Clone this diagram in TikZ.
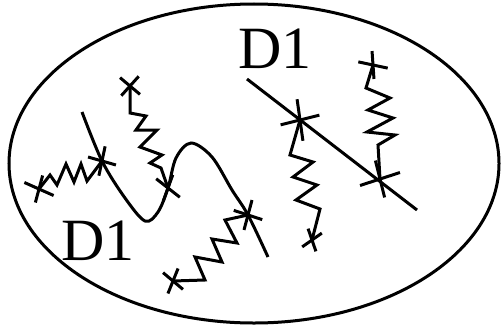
\documentclass[tikz,border=0pt]{standalone}
\usepackage{fontspec}
\setmainfont{Liberation Serif}
\usetikzlibrary{shapes.geometric}
\newcommand\drawcross[5]{%
  \draw ([shift={(#2:#4)}]#1) -- ([shift={(#2+180:#4)}]#1);
  \draw ([shift={(#3:#5)}]#1) -- ([shift={(#3+180:#5)}]#1);}
\begin{document}
\begin{tikzpicture}[x=1pt,y=-1pt,line width=3pt,line join=miter,
  lbl/.style={font=\fontsize{60}{60}\selectfont,inner sep=0pt}]
\useasboundingbox (0,0) rectangle (502,329);
% ellipse
\node[draw,ellipse,minimum width=490pt,minimum height=319pt,inner sep=0pt] (ell) at (254,163.5) {};
% labels
\node[lbl,anchor=base west] (t1) at (237,68) {D1};
\node[lbl,anchor=base west] (t2) at (60,260) {D1};
% cross positions
\coordinate (x1) at (102,161);
\coordinate (x2) at (168,188);
\coordinate (x3) at (248,215);
\coordinate (x4) at (300,120);
\coordinate (x5) at (380,179);
\coordinate (f1) at (39,189);
\coordinate (f2) at (130,86);
\coordinate (f3) at (173,281);
\coordinate (f4) at (312,240);
\coordinate (f5) at (373,65);
% wavy curve
\coordinate (w0) at (82,112);
\coordinate (w6) at (268,257);
\draw plot[smooth,tension=0.55] coordinates {(w0) (x1) (125,198) (145,221) (158,212) (x2) (176,158) (191,143) (212,157) (232,190) (x3) (w6)};
% straight line
\coordinate (l0) at (247,79);
\coordinate (l1) at (417,210);
\draw (l0) -- (l1);
% crosses
\drawcross{x1}{16}{102}{14.5}{15}
\drawcross{x2}{38}{110}{15}{14}
\drawcross{x3}{18}{105}{15}{15.5}
\drawcross{x4}{-14}{82}{20}{21}
\drawcross{x5}{-18}{76}{21}{19}
\drawcross{f1}{24}{105}{16}{14}
\drawcross{f2}{40}{132}{13}{13}
\drawcross{f3}{40}{112}{13}{13.5}
\drawcross{f4}{-35}{71}{12}{12}
\drawcross{f5}{12}{86}{15}{14}
% springs
\draw (f1) -- (50,175) -- (57,185) -- (66,164) -- (74,182) -- (81,164) -- (87,181) -- (x1);
\draw (f2) -- (130,113) -- (146,116) -- (136,130) -- (157,130) -- (140,147) -- (162,155) -- (150,163) -- (161,168) -- (x2);
\draw (x3) -- (225,220) -- (237,243) -- (212,239) -- (222,262) -- (195,257) -- (205,280) -- (f3);
\draw (x4) -- (290,155) -- (313,162) -- (293,177) -- (317,185) -- (296,200) -- (320,209) -- (f4);
\draw (f5) -- (366,88) -- (390,98) -- (368,110) -- (393,118) -- (367,132) -- (395,135) -- (378,145) -- (x5);
\end{tikzpicture}
\end{document}
